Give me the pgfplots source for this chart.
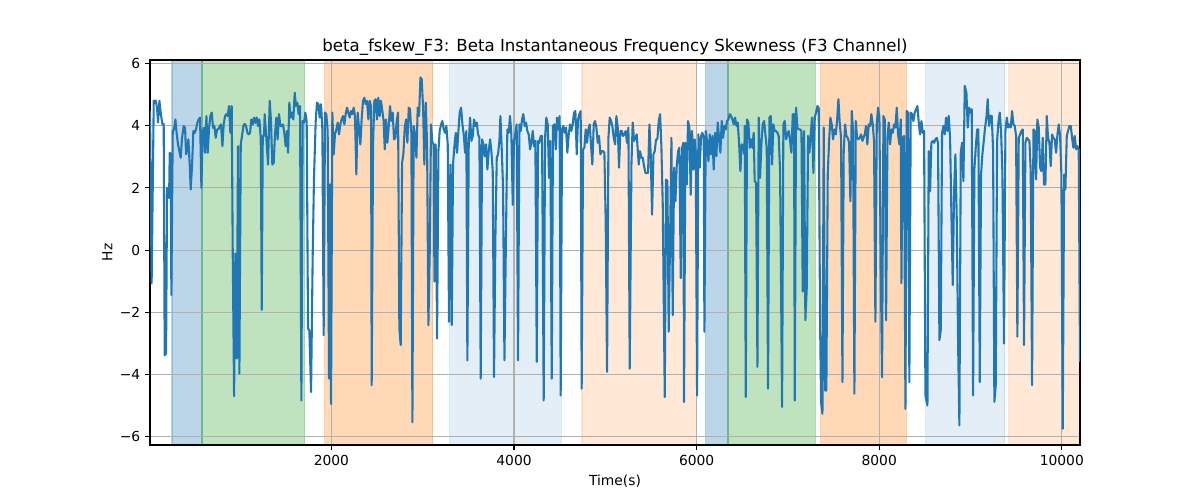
\documentclass[border=0pt]{standalone}
\usepackage{fontspec}
\setmainfont{DejaVu Sans}
\usepackage{pgfplots}
\pgfplotsset{compat=1.18}
\definecolor{tabblue}{HTML}{1F77B4}
\definecolor{tabgreen}{HTML}{2CA02C}
\definecolor{taborange}{HTML}{FF7F0E}
\definecolor{gridgray}{HTML}{B0B0B0}
\begin{document}
\begin{tikzpicture}
\begin{axis}[
 set layers,
 at={(0,0)}, anchor=south west,
 scale only axis, width=669.6bp, height=277.2bp,
 xmin=13, xmax=10199, ymin=-6.26, ymax=6.11,
 scaled x ticks=false, scaled y ticks=false,
 xtick pos=bottom, ytick pos=left,
 xtick={2000,4000,6000,8000,10000}, xticklabels={2000,4000,6000,8000,10000},
 ytick={-6,-4,-2,0,2,4,6}, yticklabels={−6,−4,−2,0,2,4,6},
 grid=major, grid style={gridgray, line width=0.8bp},
 axis line style={line width=0.8bp},
 tick align=outside, major tick length=3.5bp, tick style={black, line width=0.8bp},
 tick label style={font=\fontsize{10}{12}\selectfont},
 label style={font=\fontsize{10}{12}\selectfont},
 ylabel style={yshift=-1.5bp},
 title style={font=\fontsize{12}{14}\selectfont, yshift=-6.5bp},
 title={beta\_fskew\_F3: Beta Instantaneous Frequency Skewness (F3 Channel)},
 xlabel={Time(s)}, ylabel={Hz},
]
\addplot[on layer=axis background, draw=tabblue, fill=tabblue, opacity=0.3, line width=1bp] coordinates {(254,-6.26) (583,-6.26) (583,6.11) (254,6.11) (254,-6.26)};
\addplot[on layer=axis background, draw=tabgreen, fill=tabgreen, opacity=0.3, line width=1bp] coordinates {(583,-6.26) (1707,-6.26) (1707,6.11) (583,6.11) (583,-6.26)};
\addplot[on layer=axis background, draw=taborange, fill=taborange, opacity=0.3, line width=1bp] coordinates {(1927,-6.26) (3110,-6.26) (3110,6.11) (1927,6.11) (1927,-6.26)};
\addplot[on layer=axis background, draw=tabblue, fill=tabblue, opacity=0.12, line width=1bp] coordinates {(3296,-6.26) (4519,-6.26) (4519,6.11) (3296,6.11) (3296,-6.26)};
\addplot[on layer=axis background, draw=taborange, fill=taborange, opacity=0.17, line width=1bp] coordinates {(4745,-6.26) (5998,-6.26) (5998,6.11) (4745,6.11) (4745,-6.26)};
\addplot[on layer=axis background, draw=tabblue, fill=tabblue, opacity=0.3, line width=1bp] coordinates {(6099,-6.26) (6344,-6.26) (6344,6.11) (6099,6.11) (6099,-6.26)};
\addplot[on layer=axis background, draw=tabgreen, fill=tabgreen, opacity=0.3, line width=1bp] coordinates {(6344,-6.26) (7301,-6.26) (7301,6.11) (6344,6.11) (6344,-6.26)};
\addplot[on layer=axis background, draw=taborange, fill=taborange, opacity=0.3, line width=1bp] coordinates {(7359,-6.26) (8298,-6.26) (8298,6.11) (7359,6.11) (7359,-6.26)};
\addplot[on layer=axis background, draw=tabblue, fill=tabblue, opacity=0.12, line width=1bp] coordinates {(8509,-6.26) (9375,-6.26) (9375,6.11) (8509,6.11) (8509,-6.26)};
\addplot[on layer=axis background, draw=taborange, fill=taborange, opacity=0.17, line width=1bp] coordinates {(9418,-6.26) (10199,-6.26) (10199,6.11) (9418,6.11) (9418,-6.26)};
\addplot[tabblue, line width=1.5bp, line join=round, mark=none] coordinates {
(13,4.47) (31,-1.06) (54,4.80) (76,4.80) (90,4.58) (101,4.10) (116,4.80) (130,4.42) (149,4.04) (163,4.06) (174,-3.38) (189,-3.32) (200,2.00) (214,2.00) (222,1.68) (229,3.13) (240,3.08) (247,-1.44) (262,3.83) (276,3.88) (291,4.20) (306,3.72) (320,3.40) (335,3.18) (349,2.97) (364,3.61) (382,3.99) (397,3.93) (408,3.08) (422,3.24) (433,3.56) (448,2.75) (459,1.95) (474,2.75) (488,3.83) (503,3.77) (517,3.88) (532,4.10) (547,4.20) (561,4.26) (576,2.00) (590,3.83) (605,3.93) (616,3.13) (631,4.31) (645,3.13) (660,3.93) (674,4.31) (689,4.42) (704,3.93) (718,3.99) (733,3.61) (747,3.88) (762,3.88) (777,3.99) (791,4.04) (806,3.34) (820,4.04) (835,4.31) (850,4.37) (864,4.31) (879,4.63) (893,3.77) (908,4.63) (919,0.00) (934,-4.69) (948,-0.11) (963,-3.48) (977,3.34) (992,-3.97) (1007,3.40) (1021,3.67) (1036,3.99) (1050,4.06) (1065,3.99) (1080,3.77) (1094,3.72) (1109,3.77) (1123,4.20) (1138,4.04) (1153,4.26) (1167,4.09) (1182,4.26) (1196,3.99) (1211,4.20) (1226,3.61) (1237,-1.92) (1248,3.67) (1262,3.67)
(1269,4.37) (1287,3.61) (1306,2.75) (1324,4.80) (1338,4.15) (1353,2.75) (1368,2.81) (1382,3.72) (1397,4.26) (1411,3.56) (1426,4.37) (1441,3.99) (1455,3.99) (1470,4.04) (1484,3.77) (1499,3.34) (1514,3.83) (1525,3.13) (1539,4.74) (1554,4.26) (1568,4.42) (1583,4.20) (1598,5.06) (1612,4.63) (1627,4.74) (1641,4.37) (1656,4.63) (1671,-4.83) (1685,4.15) (1700,4.10) (1714,4.42) (1729,4.15) (1744,-2.52) (1758,-2.57) (1777,-4.56) (1795,-0.15) (1809,2.32) (1828,4.15) (1842,4.74) (1857,4.69) (1871,4.26) (1886,4.69) (1901,3.88) (1915,-2.73) (1930,4.42) (1944,4.37) (1959,3.83) (1974,-4.13) (1985,2.11) (1996,-4.94) (2010,4.42) (2025,3.08) (2039,3.72) (2054,3.88) (2069,4.10) (2083,3.72) (2098,4.04) (2112,4.20) (2127,4.31) (2142,4.04) (2156,4.37) (2171,4.58) (2185,4.42) (2200,4.26) (2215,4.47) (2229,4.37) (2244,4.58) (2258,4.31) (2273,2.43) (2288,4.42) (2302,3.94) (2317,3.40) (2331,4.20) (2346,4.80) (2361,4.90) (2375,4.69) (2390,4.80) (2405,4.20) (2419,4.80) (2434,4.63) (2441,-4.34) (2456,3.40) (2470,4.80) (2485,4.85) (2499,4.20) (2514,4.90) (2529,4.31) (2543,4.80) (2558,4.47) (2572,4.15)
(2584,3.24) (2598,4.20) (2613,3.45) (2628,3.99) (2642,4.63) (2657,4.15) (2671,4.42) (2686,3.56) (2701,3.61) (2715,4.15) (2730,4.42) (2744,-2.52) (2759,-3.05) (2774,2.81) (2788,3.08) (2803,3.94) (2818,4.20) (2832,3.45) (2847,4.58) (2861,4.53) (2876,3.72) (2887,-5.53) (2901,3.99) (2916,3.72) (2931,2.97) (2945,4.58) (2960,4.31) (2975,5.55) (2989,5.49) (3004,4.58) (3018,2.75) (3033,4.74) (3048,3.40) (3062,-2.41) (3077,-0.04) (3091,4.04) (3106,3.45) (3121,3.40) (3128,-1.01) (3142,3.40) (3157,-2.84) (3172,3.18) (3186,3.83) (3201,4.04) (3215,4.15) (3230,3.88) (3245,3.77) (3259,3.99) (3274,3.40) (3288,-2.30) (3303,2.75) (3318,-2.41) (3332,2.75) (3347,3.34) (3362,3.77) (3376,3.13) (3391,3.83) (3405,4.42) (3420,4.58) (3435,4.04) (3449,3.72) (3464,3.13) (3478,3.83) (3489,-3.54) (3504,3.45) (3519,4.26) (3533,3.51) (3548,3.67) (3562,4.20) (3577,3.99) (3592,4.10) (3606,3.72) (3621,3.61) (3635,-4.13) (3650,3.56) (3665,3.40) (3679,3.02) (3694,3.40) (3708,2.59) (3723,3.18) (3738,3.56) (3752,3.18) (3767,2.54) (3781,-4.08) (3796,0.39) (3811,2.97) (3825,3.08) (3840,3.51) (3851,4.31) (3865,3.29) (3880,2.00) (3895,-3.54) (3909,-0.20)
(3927,3.88) (3942,3.77) (3956,4.31) (3971,3.72) (3986,1.46) (4000,3.51) (4015,3.77) (4029,4.04) (4044,-3.54) (4059,4.04) (4073,3.83) (4088,4.20) (4102,4.37) (4117,3.99) (4132,4.10) (4146,3.83) (4161,3.72) (4176,3.24) (4190,3.45) (4205,3.83) (4219,3.34) (4234,3.51) (4249,-3.59) (4263,3.51) (4278,3.45) (4292,3.67) (4307,3.67) (4325,-4.83) (4340,3.61) (4354,4.26) (4369,4.04) (4384,2.32) (4398,3.51) (4413,-4.13) (4427,3.99) (4442,4.04) (4457,3.24) (4471,4.26) (4486,3.88) (4500,4.31) (4511,-4.67) (4526,3.88) (4541,3.99) (4555,3.77) (4570,3.94) (4584,3.13) (4599,3.72) (4614,4.04) (4628,3.83) (4643,4.04) (4657,4.42) (4672,4.47) (4687,3.08) (4701,4.20) (4716,4.37) (4730,4.47) (4741,-4.45) (4756,3.24) (4771,3.29) (4785,3.88) (4800,3.45) (4814,3.88) (4829,4.04) (4844,3.34) (4858,2.75) (4873,4.04) (4887,4.15) (4902,3.94) (4917,3.45) (4931,3.67) (4946,3.08) (4960,3.18) (4975,3.18) (4990,3.13) (5004,0.92) (5019,-3.91) (5034,3.61) (5048,4.26) (5063,4.15) (5077,3.99) (5092,3.61) (5107,3.40) (5121,4.31) (5136,3.94) (5150,2.65) (5165,3.83) (5180,3.83) (5194,3.67) (5209,3.72) (5223,3.83) (5238,3.45) (5253,3.94)
(5267,-3.81) (5286,2.75) (5300,4.10) (5315,3.51) (5329,3.61) (5344,3.72) (5351,3.40) (5366,2.75) (5380,3.18) (5395,2.97) (5410,2.97) (5424,2.70) (5439,2.48) (5454,2.48) (5468,2.48) (5483,4.04) (5497,3.08) (5512,1.14) (5527,3.08) (5541,3.18) (5556,3.56) (5570,3.56) (5585,4.15) (5600,4.37) (5614,3.34) (5629,1.46) (5651,-4.72) (5665,2.27) (5680,2.22) (5694,-2.62) (5709,0.28) (5724,3.61) (5738,-2.09) (5753,2.65) (5768,1.57) (5782,2.70) (5797,3.18) (5811,3.29) (5826,-0.90) (5841,3.29) (5855,3.45) (5862,-4.88) (5877,3.45) (5892,2.11) (5906,4.15) (5921,3.94) (5935,1.78) (5950,3.83) (5965,2.59) (5979,3.56) (5990,3.18) (6005,-4.67) (6019,3.72) (6034,2.65) (6049,3.67) (6063,3.77) (6078,3.61) (6085,-2.62) (6100,3.83) (6114,3.51) (6129,2.86) (6144,3.72) (6158,3.08) (6173,3.67) (6187,2.59) (6202,3.77) (6217,3.02) (6231,4.10) (6246,3.61) (6260,3.13) (6275,4.15) (6290,3.61) (6304,3.99) (6319,3.88) (6333,4.15) (6348,4.20) (6363,4.37) (6377,4.31) (6392,4.20) (6406,4.04) (6421,4.26) (6436,3.99) (6450,4.10) (6465,3.45) (6479,2.54) (6494,3.40) (6509,3.34) (6523,3.08)
(6527,3.99) (6538,-4.72) (6552,4.20) (6567,4.10) (6582,3.29) (6596,3.56) (6611,3.29) (6625,3.77) (6636,2.22) (6651,2.16) (6666,-3.75) (6680,4.26) (6695,2.32) (6709,3.40) (6724,4.04) (6739,4.15) (6753,3.72) (6768,3.29) (6782,-4.45) (6797,4.26) (6812,4.31) (6826,2.75) (6841,4.04) (6855,3.83) (6870,3.83) (6885,3.77) (6899,3.67) (6914,2.54) (6936,-5.04) (6950,4.04) (6965,4.15) (6980,3.56) (6994,3.72) (7009,3.83) (7023,3.51) (7038,3.13) (7053,4.37) (7067,4.37) (7075,-4.83) (7089,4.58) (7104,3.94) (7118,3.88) (7133,3.88) (7148,3.83) (7162,-1.33) (7177,3.83) (7191,-2.25) (7206,-1.23) (7221,3.67) (7235,3.13) (7250,3.72) (7264,4.26) (7279,2.48) (7294,4.26) (7308,4.42) (7323,4.63) (7337,4.58) (7352,-2.30) (7363,-4.88) (7378,-5.26) (7392,3.94) (7407,-4.51) (7421,-4.51) (7436,2.43) (7451,3.51) (7465,4.26) (7480,4.04) (7494,3.56) (7509,3.88) (7524,3.72) (7538,4.15) (7553,4.85) (7567,4.10) (7582,3.61) (7597,-4.24) (7611,3.18) (7626,4.04) (7640,3.67) (7655,3.61) (7670,3.45) (7684,1.57) (7699,4.47) (7713,3.83) (7728,-4.61) (7743,4.15) (7757,3.61) (7772,3.56) (7786,3.61) (7801,3.72) (7816,3.51)
(7841,3.72) (7856,3.99) (7870,3.40) (7885,4.04) (7900,3.99) (7914,4.37) (7929,4.04) (7943,3.51) (7958,-2.30) (7973,4.04) (7987,4.58) (8002,4.26) (8016,-0.37) (8031,-4.08) (8046,4.31) (8060,4.20) (8075,-2.25) (8090,3.61) (8104,4.10) (8119,3.40) (8133,3.88) (8148,3.77) (8163,4.04) (8177,3.94) (8192,4.58) (8206,3.72) (8221,3.40) (8236,4.20) (8243,-1.06) (8257,3.61) (8272,3.67) (8287,-5.10) (8301,4.47) (8316,4.42) (8330,-4.24) (8345,4.42) (8360,4.37) (8374,4.15) (8389,4.42) (8404,4.53) (8418,4.63) (8433,4.10) (8447,3.72) (8462,4.15) (8477,3.77) (8491,3.83) (8506,-4.67) (8528,-4.99) (8542,3.18) (8557,1.89) (8571,3.45) (8586,3.51) (8601,3.45) (8615,3.56) (8630,3.61) (8644,3.45) (8659,-2.89) (8674,-2.57) (8688,3.77) (8703,3.99) (8717,3.72) (8732,4.26) (8747,3.83) (8761,4.31) (8776,3.61) (8791,1.09) (8805,-1.12) (8820,1.89) (8834,3.08) (8849,1.03) (8864,-3.05) (8878,-5.63) (8893,3.13) (8907,3.45) (8922,2.22)
(8937,5.28) (8955,5.06) (8969,3.94) (8984,4.58) (8999,4.42) (9013,4.53) (9028,-4.67) (9042,2.59) (9057,3.29) (9072,3.88) (9086,3.88) (9101,-4.24) (9115,2.43) (9130,3.08) (9145,3.51) (9159,3.94) (9174,4.26) (9188,4.85) (9203,3.99) (9218,4.31) (9232,4.31) (9247,3.24) (9261,-4.88) (9276,-4.34) (9291,3.51) (9305,4.10) (9320,4.42) (9335,3.77) (9349,2.48) (9367,-3.00) (9382,3.83) (9397,4.26) (9411,3.94) (9426,4.04) (9440,3.94) (9455,4.47) (9470,4.04) (9484,3.99) (9499,3.67) (9513,-2.78) (9528,3.61) (9543,3.72) (9557,3.83) (9572,3.88) (9586,-3.05) (9601,3.45) (9616,3.61) (9630,3.56) (9645,3.51) (9659,2.54) (9674,-4.34) (9689,3.88) (9703,3.83) (9718,2.27) (9732,4.20) (9747,3.94) (9762,2.65) (9776,2.54) (9791,3.61) (9805,2.11) (9820,2.11) (9835,4.31) (9849,3.61) (9864,3.45) (9878,2.70) (9893,3.72) (9908,3.61) (9922,3.56) (9937,3.13) (9952,3.72) (9966,4.04) (9981,3.67) (9995,2.43) (10010,-5.74) (10025,2.43) (10039,1.95) (10054,3.67) (10068,3.83) (10083,3.99) (10098,3.99) (10112,3.61) (10127,3.29) (10141,3.67) (10156,3.24) (10171,3.34) (10185,3.24) (10199,-3.59)
};
\end{axis}
\path (-108bp,-39.6bp) rectangle (756bp,320.4bp);
\end{tikzpicture}
\end{document}
